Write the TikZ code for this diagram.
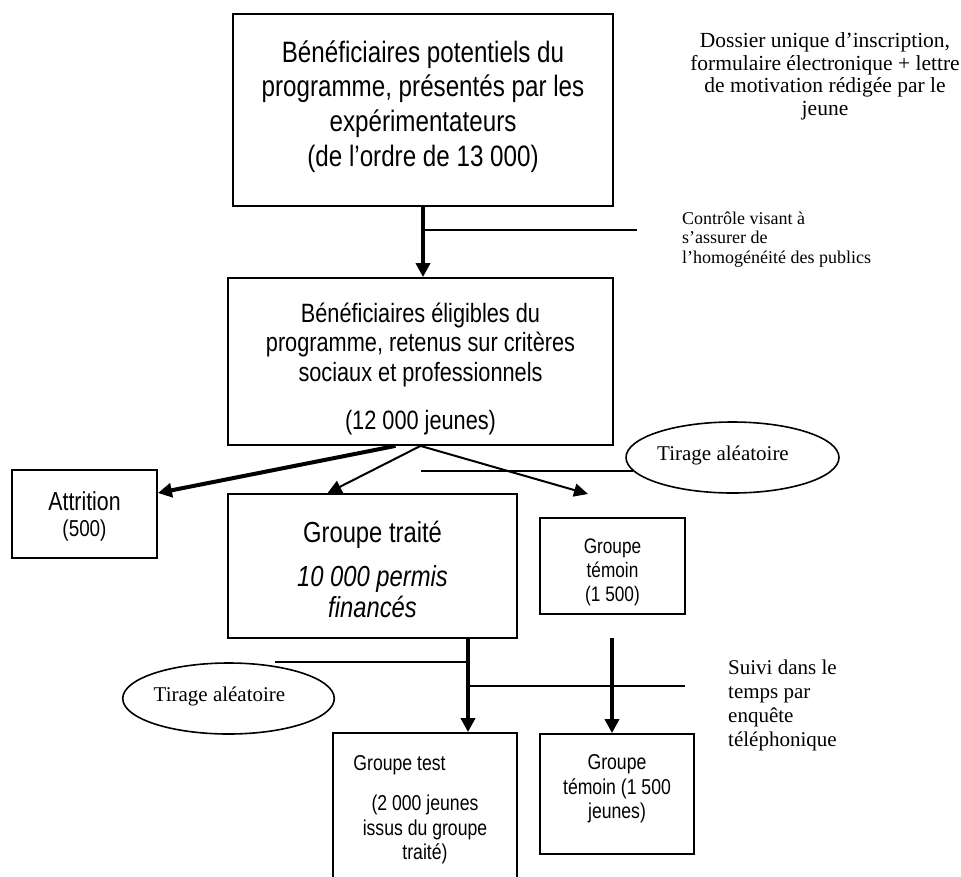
\documentclass[tikz,border=0pt]{standalone}
\usepackage{fontspec}
\setmainfont{Liberation Serif}
\newfontfamily\narrowfont[FakeStretch=0.82]{Liberation Sans}
\usetikzlibrary{arrows.meta,shapes.geometric,calc}
\begin{document}
\begin{tikzpicture}[x=1pt,y=-1pt,
  box/.style={draw,line width=1.8pt,rectangle,inner sep=0pt},
  boxtext/.style={align=center,inner sep=0pt},
  oval/.style={draw,line width=1.6pt,ellipse,inner sep=0pt,minimum width=193pt,minimum height=71pt,font=\fontsize{21}{24}\selectfont},
  note/.style={inner sep=0pt,font=\fontsize{21}{24}\selectfont},
  thinline/.style={line width=2pt},
  thinarrow/.style={line width=2pt,-{Triangle[length=14pt,width=13pt]}},
  thickarrow/.style={line width=4pt,-{Triangle[length=14pt,width=14pt]}}]
\useasboundingbox (0,0) rectangle (961,876);
\fill[white] (0,0) rectangle (961,876);

% boxes
\node[box, minimum width=380pt, minimum height=192pt] (b1) at (423,110) {};
\node[box, minimum width=385pt, minimum height=167pt] (b2) at (420.5,361.5) {};
\node[box, minimum width=145pt, minimum height=88pt] (att) at (84.5,514) {};
\node[box, minimum width=289pt, minimum height=144pt] (gt) at (372.5,566) {};
\node[box, minimum width=145pt, minimum height=96pt] (gw1) at (612.5,566) {};
\node[box, minimum width=184pt, minimum height=149pt] (gtest) at (425,807.5) {};
\node[box, minimum width=154pt, minimum height=120pt] (gw2) at (617,794) {};

% box texts
\node[boxtext, font=\narrowfont\fontsize{29.5}{34.7}\selectfont] (b1t) at (423,106.5)
  {Bénéficiaires potentiels du\\programme, présentés par les\\expérimentateurs\\(de l’ordre de 13 000)};
\node[boxtext, font=\narrowfont\fontsize{26.5}{29.5}\selectfont] (b2t) at (420.5,368.5)
  {Bénéficiaires éligibles du\\programme, retenus sur critères\\sociaux et professionnels\\[18.5pt](12 000 jeunes)};
\node[boxtext, font=\narrowfont\fontsize{23}{26}\selectfont] (attt) at (84.5,516)
  {{\fontsize{26}{26}\selectfont Attrition}\\(500)};
\node[boxtext, font=\narrowfont\fontsize{29}{31}\selectfont] (gtt) at (372.5,569.5)
  {Groupe traité\\[13pt]\itshape 10 000 permis\\\itshape financés};
\node[boxtext, font=\narrowfont\fontsize{21}{24}\selectfont] (gw1t) at (612.5,572.5)
  {Groupe\\témoin\\(1 500)};
\node[boxtext, font=\narrowfont\fontsize{21.5}{24.5}\selectfont] (gtestt) at (425,810)
  {Groupe test\hspace*{51pt}\\[15.5pt](2 000 jeunes\\issus du groupe\\traité)};
\node[boxtext, font=\narrowfont\fontsize{21.5}{24.5}\selectfont] (gw2t) at (617,789)
  {Groupe\\témoin (1 500\\jeunes)};

% ovals
\node[oval] (e1) at (732.5,457.5) {\raisebox{9pt}{Tirage aléatoire}\hspace*{19pt}};
\node[oval] (e2) at (228.5,698.5) {\raisebox{9pt}{Tirage aléatoire}\hspace*{18pt}};

% notes
\node[note, align=center, font=\fontsize{21.5}{22.5}\selectfont] (dos) at (825,76.5)
  {Dossier unique d’inscription,\\formulaire électronique + lettre\\de motivation rédigée par le\\jeune};
\node[note, align=left, anchor=west, font=\fontsize{18}{19.5}\selectfont] (ctl) at (682,239.5)
  {Contrôle visant à\\s’assurer de\\l’homogénéité des publics};
\node[note, align=left, anchor=west] (suivi) at (728,705.5)
  {Suivi dans le\\temps par\\enquête\\téléphonique};

% connectors
\draw[thickarrow] (b1.south) -- (b1.south |- b2.north);
\coordinate (c1) at (637,230);
\draw[thinline] (c1) -- (c1 -| b1.south);

\draw[thickarrow] ([xshift=-25pt]b2.south) -- ([yshift=21pt]att.east);
\draw[thinarrow] (b2.south) -- ([xshift=-45pt]gt.north);
\coordinate (c2) at (588,494);
\draw[thinarrow] (b2.south) -- (c2);
\draw[thinline] (e1.188) -- (e1.188 -| b2.south);

\draw[thickarrow] ([xshift=95.5pt]gt.south) coordinate (c3) -- (c3 |- gtest.north);
\coordinate (c4) at (275,662);
\draw[thinline] (c4) -- (c4 -| c3);
\coordinate (c5) at (612,638);
\draw[thickarrow] (c5) -- (c5 |- gw2.north);
\coordinate (c6) at (685,686);
\draw[thinline] (c6) -- (c6 -| c3);
\end{tikzpicture}
\end{document}
